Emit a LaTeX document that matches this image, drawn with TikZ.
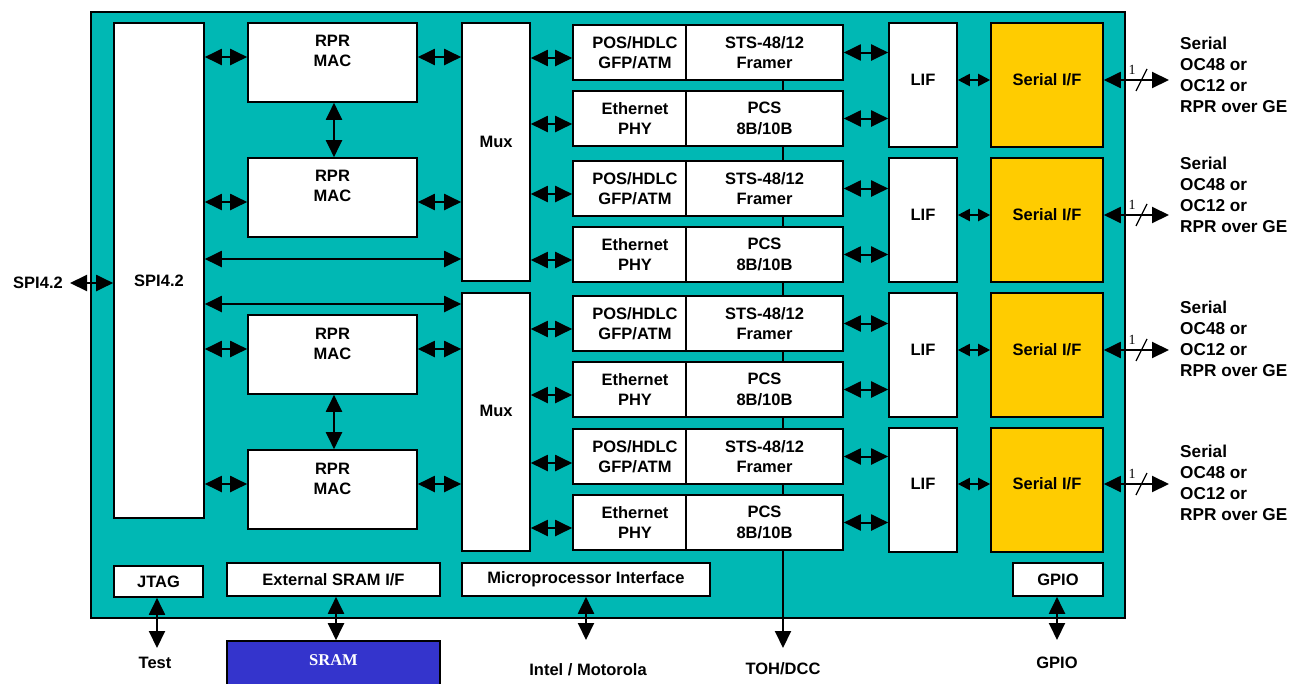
\documentclass[tikz,border=0pt]{standalone}
\usepackage{fontspec}
\setmainfont{Liberation Sans}
\newfontfamily\serifb{Liberation Serif}
\usetikzlibrary{arrows.meta}
\definecolor{tealbg}{RGB}{0,184,180}
\definecolor{goldif}{RGB}{255,204,0}
\definecolor{sramblue}{RGB}{52,52,204}
\pgfdeclarelayer{back}
\pgfsetlayers{back,main}
% [opts]{x1}{y1}{x2}{y2}{name}
\newcommand\mybox[6][]{\node[blk,#1,minimum width={#4-#2},minimum height={#5-#3}] (#6) at ({(#2+#4)/2},{(#3+#5)/2}) {};}
\begin{document}
\begin{tikzpicture}[x=1pt,y=-1pt,
  blk/.style={draw=black,line width=1.6pt,fill=white,inner sep=0pt},
  lbl/.style={inner sep=0pt,font=\bfseries\fontsize{16.5}{20.5}\selectfont,align=center},
  rlbl/.style={inner sep=0pt,font=\bfseries\fontsize{17.2}{21}\selectfont,align=left,anchor=west},
  dbl/.style={line width=2pt,{Triangle[length=17pt,width=16pt]}-{Triangle[length=17pt,width=16pt]}},
  sdbl/.style={line width=2pt,{Triangle[length=12pt,width=12pt]}-{Triangle[length=12pt,width=12pt]}},
  dwn/.style={line width=2pt,-{Triangle[length=17pt,width=16pt]}},
]
\useasboundingbox (0,0) rectangle (1293,683);
\begin{pgfonlayer}{back}
\node[draw=black,line width=1.6pt,fill=tealbg,inner sep=0pt,minimum width=1034,minimum height=606] (chip) at (608,315) {};
\end{pgfonlayer}

% SPI4.2
\mybox{114}{23}{204}{518}{spi}
\node[lbl] (tspi) at (159,281) {SPI4.2};
\node[lbl] (extspi) at (38,283) {SPI4.2};
\coordinate (spiext) at (70,283);

% RPR MACs
\mybox{248}{23}{417}{102}{mac1}
\mybox{248}{158}{417}{237}{mac2}
\mybox{248}{315}{417}{394}{mac3}
\mybox{248}{450}{417}{529}{mac4}
\node[lbl] (tmac1) at (332.5,51) {RPR\\MAC};
\node[lbl] (tmac2) at (332.5,186) {RPR\\MAC};
\node[lbl] (tmac3) at (332.5,344) {RPR\\MAC};
\node[lbl] (tmac4) at (332.5,479) {RPR\\MAC};

% Mux
\mybox{462}{23}{530}{281}{mux1}
\mybox{462}{293}{530}{551}{mux2}
\node[lbl] (tmux1) at (496,142) {Mux};
\node[lbl] (tmux2) at (496,411) {Mux};

% Framer / PHY blocks
\foreach \i/\ya in {1/25,2/91,3/161,4/227,5/296,6/362,7/429,8/495}{
  \pgfmathsetmacro\yb{\ya+55}
  \mybox{573}{\ya}{686}{\yb}{fl\i}
  \mybox{686}{\ya}{843}{\yb}{fr\i}
}
\foreach \i in {1,3,5,7}{
  \node[lbl] (tfl\i) at ([xshift=5.5pt]fl\i.center) {POS/HDLC\\GFP/ATM};
  \node[lbl] (tfr\i) at (fr\i.center) {STS-48/12\\Framer};
}
\foreach \i in {2,4,6,8}{
  \node[lbl] (tfl\i) at ([xshift=5.5pt]fl\i.center) {Ethernet\\PHY};
  \node[lbl] (tfr\i) at (fr\i.center) {PCS\\8B/10B};
}

% LIF and Serial I/F
\foreach \i/\ya/\yb in {1/23/147,2/158/282,3/293/417,4/428/552}{
  \mybox{889}{\ya}{957}{\yb}{lif\i}
  \mybox[fill=goldif]{991}{\ya}{1103}{\yb}{ser\i}
}
\foreach \i/\ym in {1/80,2/215,3/350,4/484}{
  \node[lbl] (tlif\i) at (923,\ym) {LIF};
  \node[lbl] (tser\i) at (1047,\ym) {Serial I/F};
  \draw[sdbl] (lif\i.east |- 0,\ym) -- (ser\i.west |- 0,\ym);
  \coordinate (out\i) at (1169,\ym);
  \draw[dbl] (ser\i.east |- 0,\ym) -- (out\i);
  \draw[line width=1.2pt] (1136,\ym+11) -- (1147,\ym-11);
  \node[inner sep=0pt,font=\serifb\fontsize{14}{14}\selectfont] (one\i) at (1132,\ym-10) {1};
}
\node[rlbl] (lab1) at (1180,74.5) {Serial\\OC48 or\\OC12 or\\RPR over GE};
\node[rlbl] (lab2) at (1180,195) {Serial\\OC48 or\\OC12 or\\RPR over GE};
\node[rlbl] (lab3) at (1180,338.5) {Serial\\OC48 or\\OC12 or\\RPR over GE};
\node[rlbl] (lab4) at (1180,483) {Serial\\OC48 or\\OC12 or\\RPR over GE};

% bottom blocks
\mybox{114}{566}{203}{597}{jtag}
\mybox{227}{563}{440}{596}{esram}
\mybox{462}{563}{710}{596}{mpi}
\mybox{1013}{563}{1103}{596}{gpio}
\node[lbl] (tjtag) at (jtag.center) {JTAG};
\node[lbl] (tesram) at (esram.center) {External SRAM I/F};
\node[lbl] (tmpi) at (mpi.center) {Microprocessor Interface};
\node[lbl] (tgpio) at (gpio.center) {GPIO};

\node[draw=black,line width=1.6pt,fill=sramblue,inner sep=0pt,minimum width=213,minimum height=60] (sram) at (333.5,671) {};
\node[inner sep=0pt,text=white,font=\serifb\bfseries\fontsize{16.5}{16.5}\selectfont] (tsram) at (333.5,660) {SRAM};

\node[lbl] (ttest) at (155,663) {Test};
\node[lbl] (tintel) at (588,670) {Intel / Motorola};
\node[lbl] (ttoh) at (783,669) {TOH/DCC};
\node[lbl] (tgpioext) at (1057,663) {GPIO};
\coordinate (testend) at (157,648);
\coordinate (mpiend) at (586,640);
\coordinate (tohend) at (783,648);
\coordinate (gpioend) at (1057,640);

% framer chain vertical line (behind blocks)
\begin{pgfonlayer}{back}
\draw[dwn] (fr1.south -| tohend) -- (tohend);
\end{pgfonlayer}

% connectors
\draw[dbl] (spiext) -- (spi.west |- spiext);
\foreach \i/\ym in {1/57,2/202,3/349,4/484}{
  \draw[dbl] (spi.east |- 0,\ym) -- (mac\i.west |- 0,\ym);
}
\draw[dbl] (mac1.east |- 0,57) -- (mux1.west |- 0,57);
\draw[dbl] (mac2.east |- 0,202) -- (mux1.west |- 0,202);
\draw[dbl] (mac3.east |- 0,349) -- (mux2.west |- 0,349);
\draw[dbl] (mac4.east |- 0,484) -- (mux2.west |- 0,484);
\draw[dbl] (spi.east |- 0,259) -- (mux1.west |- 0,259);
\draw[dbl] (spi.east |- 0,304) -- (mux2.west |- 0,304);
\draw[dbl] (mac1.south -| 334,0) -- (mac2.north -| 334,0);
\draw[dbl] (mac3.south -| 334,0) -- (mac4.north -| 334,0);
\foreach \i/\ym in {1/58,2/124,3/194,4/260}{
  \draw[dbl] (mux1.east |- 0,\ym) -- (fl\i.west |- 0,\ym);
}
\foreach \i/\ym in {5/329,6/395,7/463,8/528}{
  \draw[dbl] (mux2.east |- 0,\ym) -- (fl\i.west |- 0,\ym);
}
\foreach \i/\l in {1/1,2/1,3/2,4/2,5/3,6/3,7/4,8/4}{
  \draw[dbl] (fr\i.east) -- (lif\l.west |- fr\i.east);
}
\draw[dbl] (jtag.south -| testend) -- (testend);
\draw[dbl] (esram.south -| 336,0) -- (sram.north -| 336,0);
\draw[dbl] (mpi.south -| mpiend) -- (mpiend);
\draw[dbl] (gpio.south -| gpioend) -- (gpioend);
\end{tikzpicture}
\end{document}
